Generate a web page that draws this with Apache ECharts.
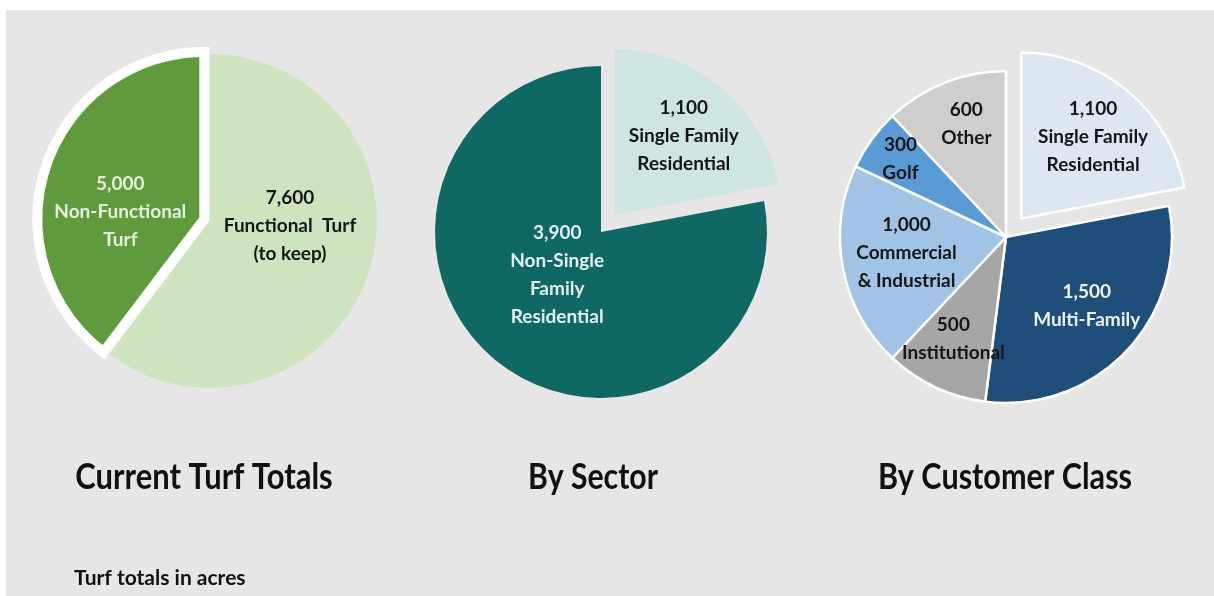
<!DOCTYPE html>
<html>
<head>
<meta charset="utf-8">
<script src="https://cdn.jsdelivr.net/npm/echarts@6/dist/echarts.min.js"></script>
<style>
  html, body { margin: 0; padding: 0; background: #ffffff; }
  #chart { width: 1214px; height: 596px; }
</style>
</head>
<body>
<div id="chart"></div>
<script>
// ---- Data ----
const turfNames = ['Functional  Turf\n(to keep)', 'Non-Functional\nTurf'];
const turfValues = [7600, 5000];

const sectorNames = ['Single Family\nResidential', 'Non-Single\nFamily\nResidential'];
const sectorValues = [1100, 3900];

const classNames = ['Single Family\nResidential', 'Multi-Family', 'Institutional', 'Commercial\n& Industrial', 'Golf', 'Other'];
const classValues = [1100, 1500, 500, 1000, 300, 600];

const chartTitles = ['Current Turf Totals', 'By Sector', 'By Customer Class'];
const footnote = 'Turf totals in acres';

// ---- Styles ----
const turfColors = ['#cde4bf', '#5f9b3c'];
const turfText = ['#161616', '#e8f0e0'];
const turfShift = [[-2, -23], [-2, 20]];

const sectorColors = ['#cfe5e3', '#106865'];
const sectorText = ['#161616', '#e6f0f0'];
const sectorShift = [[14, -13], [11, -23]];

const classColors = ['#dde6f3', '#1f4e7a', '#a6a6a6', '#a0c3e6', '#5b9bd5', '#d0cecd'];
const classText = ['#161616', '#eef2f8', '#161616', '#161616', '#161616', '#161616'];
const classShift = [[17, -15], [18, 10], [-16, 24], [-15, 0], [-36, -28], [-8, -33]];

const labelFont = 'Lato, "Open Sans", sans-serif';

function fmt(v) { return v.toLocaleString('en-US'); }

function buildData(names, values, colors, textColors, selIdx, itemExtra) {
  return names.map((n, i) => ({
    name: n,
    value: values[i],
    selected: i === selIdx,
    itemStyle: Object.assign({ color: colors[i] }, itemExtra ? itemExtra(i) : {}),
    label: { color: textColors[i] }
  }));
}

function shifter(shifts) {
  return function (params) {
    const s = shifts[params.dataIndex] || [0, 0];
    return { dx: s[0], dy: s[1] };
  };
}

const baseLabel = {
  show: true,
  position: 'inside',
  formatter: p => fmt(p.value) + '\n' + p.name,
  fontFamily: labelFont,
  fontWeight: 'bold',
  fontSize: 19,
  lineHeight: 28,
  align: 'center'
};

function titleText(x, y, text, size, sx, align) {
  return {
    type: 'text', x: x, y: y, scaleX: sx, scaleY: 1,
    style: { text: text, font: 'bold ' + size + 'px ' + labelFont, fill: '#111111', align: align, verticalAlign: 'middle' }
  };
}

const chart = echarts.init(document.getElementById('chart'), null, { renderer: 'canvas' });

const option = {
  backgroundColor: '#ffffff',
  animation: false,
  graphic: [
    { type: 'rect', z: -10, shape: { x: 6, y: 10, width: 1214, height: 596 }, style: { fill: '#e6e6e6' }, silent: true },
    titleText(204, 477, chartTitles[0], 36, 0.86, 'center'),
    titleText(593, 477, chartTitles[1], 36, 0.84, 'center'),
    titleText(1005, 477, chartTitles[2], 36, 0.85, 'center'),
    titleText(74, 578, footnote, 21, 1.0, 'left')
  ],
  series: [
    {
      type: 'pie',
      center: [210, 221],
      radius: 167,
      startAngle: 90,
      clockwise: true,
      selectedMode: 'single',
      selectedOffset: 6,
      avoidLabelOverlap: false,
      emphasis: { disabled: true },
      label: baseLabel,
      labelLine: { show: false },
      labelLayout: shifter(turfShift),
      data: buildData(turfNames, turfValues, turfColors, turfText, 1,
        i => i === 1 ? { borderColor: '#ffffff', borderWidth: 10, borderJoin: 'miter' } : { borderWidth: 0 })
    },
    {
      type: 'pie',
      center: [601, 232],
      radius: 166,
      startAngle: 90,
      clockwise: true,
      selectedMode: 'single',
      selectedOffset: 22,
      avoidLabelOverlap: false,
      emphasis: { disabled: true },
      label: baseLabel,
      labelLine: { show: false },
      labelLayout: shifter(sectorShift),
      data: buildData(sectorNames, sectorValues, sectorColors, sectorText, 0, () => ({ borderWidth: 0 }))
    },
    {
      type: 'pie',
      center: [1006, 237],
      radius: 166,
      startAngle: 90,
      clockwise: true,
      selectedMode: 'single',
      selectedOffset: 24,
      avoidLabelOverlap: false,
      emphasis: { disabled: true },
      label: baseLabel,
      labelLine: { show: false },
      labelLayout: shifter(classShift),
      data: buildData(classNames, classValues, classColors, classText, 0, () => ({ borderColor: '#ffffff', borderWidth: 2.5 }))
    }
  ]
};

chart.setOption(option);
</script>
</body>
</html>
